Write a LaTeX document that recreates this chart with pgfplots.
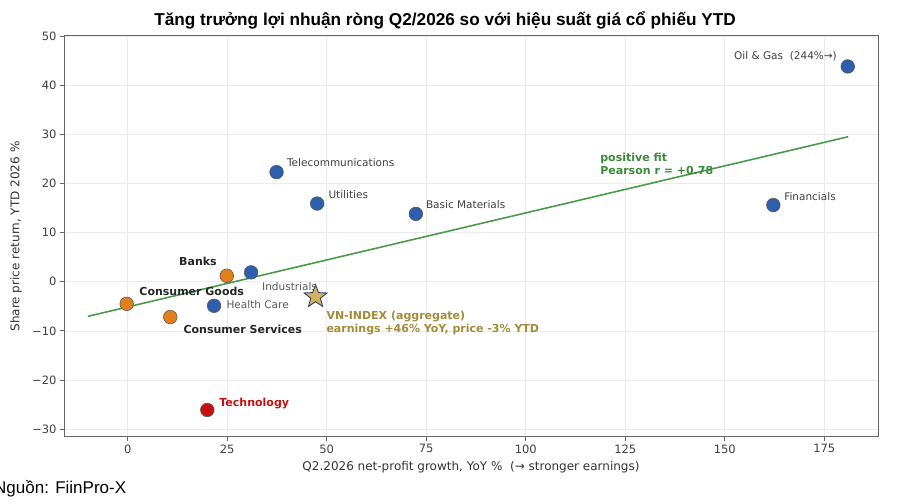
\documentclass[border=0pt]{standalone}
\usepackage{pgfplots}
\pgfplotsset{compat=1.18}
\usepackage{fontspec}
\setmainfont{DejaVu Sans}
\newfontfamily\arialfont{Liberation Sans}
\definecolor{cblue}{HTML}{2D5FAE}
\definecolor{corange}{HTML}{E3801A}
\definecolor{cred}{HTML}{C80F0F}
\definecolor{cstar}{HTML}{D2B25E}
\definecolor{cstaredge}{HTML}{34426A}
\definecolor{cgreen}{HTML}{4A9A4A}
\definecolor{cgreentext}{HTML}{3A8A3A}
\definecolor{cgold}{HTML}{A58A3A}
\pgfdeclareplotmark{fstar}{%
  \pgfpathmoveto{\pgfpointpolar{90}{\pgfplotmarksize}}%
  \pgfpathlineto{\pgfpointpolar{126}{0.42\pgfplotmarksize}}%
  \pgfpathlineto{\pgfpointpolar{162}{\pgfplotmarksize}}%
  \pgfpathlineto{\pgfpointpolar{198}{0.42\pgfplotmarksize}}%
  \pgfpathlineto{\pgfpointpolar{234}{\pgfplotmarksize}}%
  \pgfpathlineto{\pgfpointpolar{270}{0.42\pgfplotmarksize}}%
  \pgfpathlineto{\pgfpointpolar{306}{\pgfplotmarksize}}%
  \pgfpathlineto{\pgfpointpolar{342}{0.42\pgfplotmarksize}}%
  \pgfpathlineto{\pgfpointpolar{18}{\pgfplotmarksize}}%
  \pgfpathlineto{\pgfpointpolar{54}{0.42\pgfplotmarksize}}%
  \pgfpathclose
  \pgfusepathqfillstroke}
\begin{document}
\begin{tikzpicture}
\begin{axis}[
  at={(64bp,67bp)}, anchor=south west,
  width=814bp, height=401bp, scale only axis,
  xmin=-16, xmax=188.5, ymin=-31.6, ymax=50,
  xtick={0,25,50,75,100,125,150,175},
  xticklabels={0,25,50,75,100,125,150,175},
  ytick={-30,-20,-10,0,10,20,30,40,50},
  yticklabels={−30,−20,−10,0,10,20,30,40,50},
  xtick pos=lower, ytick pos=left,
  tick align=outside, major tick length=4bp,
  grid=major, grid style={draw=black!8, line width=0.6bp},
  axis line style={draw=black!60, line width=1bp},
  tick style={draw=black!60, line width=0.8bp},
  tick label style={font=\fontsize{11.5bp}{13bp}\selectfont, text=black!75},
  xlabel={Q2.2026 net-profit growth, YoY \%\ \ (→ stronger earnings)},
  ylabel={Share price return, YTD 2026 \%},
  xlabel style={font=\fontsize{12bp}{14bp}\selectfont, text=black!80, at={(axis description cs:0.5,-0.0748)}, anchor=center},
  ylabel style={font=\fontsize{12bp}{14bp}\selectfont, text=black!80, at={(axis description cs:-0.059,0.5)}, anchor=center},
  clip=false,
]
% fit line
\addplot[cgreen, line width=1.6bp, no marks] coordinates {(-10,-7.05) (181,29.5)};
% blue sectors
\addplot[only marks, mark=*, mark size=6.8bp, mark options={fill=cblue, draw=black!65, line width=0.6bp}] coordinates {
  (180.9,43.8) (37.4,22.3) (47.6,15.9) (72.4,13.8) (162.2,15.6) (31,1.9) (21.7,-4.9)
};
% orange sectors
\addplot[only marks, mark=*, mark size=6.8bp, mark options={fill=corange, draw=black!65, line width=0.6bp}] coordinates {
  (24.9,1.2) (-0.25,-4.5) (10.7,-7.2)
};
% technology
\addplot[only marks, mark=*, mark size=6.8bp, mark options={fill=cred, draw=black!65, line width=0.6bp}] coordinates {
  (20,-26.1)
};
% VN-INDEX
\addplot[only marks, mark=fstar, mark size=12bp, mark options={fill=cstar, draw=cstaredge, line width=0.9bp}] coordinates {
  (47.2,-3.05)
};
\begin{scope}[every node/.style={inner sep=0pt, font=\fontsize{10.5bp}{12.5bp}\selectfont}]
\node[anchor=east, text=black!75] at (axis cs:178.2,45.9) {Oil \& Gas\ \ (244\%→)};
\node[anchor=west, text=black!75] at (axis cs:40.0,24.2) {Telecommunications};
\node[anchor=west, text=black!75] at (axis cs:50.4,17.8) {Utilities};
\node[anchor=west, text=black!75] at (axis cs:74.9,15.6) {Basic Materials};
\node[anchor=west, text=black!75] at (axis cs:164.9,17.3) {Financials};
\node[anchor=west, text=black!65] at (axis cs:33.75,-0.9) {Industrials};
\node[anchor=west, text=black!65] at (axis cs:24.8,-4.75) {Health Care};
\node[anchor=west, text=black!85, font=\bfseries\fontsize{11bp}{13bp}\selectfont] at (axis cs:12.9,4.1) {Banks};
\node[anchor=west, text=black!85, font=\bfseries\fontsize{11bp}{13bp}\selectfont] at (axis cs:2.9,-2.0) {Consumer Goods};
\node[anchor=west, text=black!85, font=\bfseries\fontsize{11bp}{13bp}\selectfont] at (axis cs:14.0,-9.7) {Consumer Services};
\node[anchor=west, text=cred, font=\bfseries\fontsize{11bp}{13bp}\selectfont] at (axis cs:23.0,-24.85) {Technology};
\node[anchor=west, align=left, text=cgold, font=\bfseries\fontsize{11bp}{12.5bp}\selectfont] at (axis cs:49.9,-8.4) {VN-INDEX (aggregate)\\earnings +46\% YoY, price -3\% YTD};
\node[anchor=west, align=left, text=cgreentext, font=\bfseries\fontsize{11bp}{13bp}\selectfont] at (axis cs:118.7,23.9) {positive fit\\Pearson r = +0.78};
\end{scope}
\end{axis}
\node[anchor=base, font=\arialfont\bfseries\fontsize{17.2bp}{19bp}\selectfont] at (445bp,478bp) {Tăng trưởng lợi nhuận ròng Q2/2026 so với hiệu suất giá cổ phiếu YTD};
\node[anchor=base west, inner sep=0pt, font=\arialfont\fontsize{17bp}{19bp}\selectfont] at (-6bp,11bp) {Nguồn: FiinPro-X};
\pgfresetboundingbox
\path[use as bounding box] (0,0) rectangle (900bp,504bp);
\end{tikzpicture}
\end{document}
